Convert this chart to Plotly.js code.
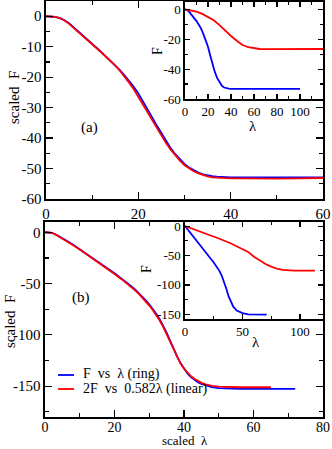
<!DOCTYPE html>
<html>
<head>
<meta charset="utf-8">
<script src="https://cdn.plot.ly/plotly-3.0.1.min.js"></script>
<style>html,body{margin:0;padding:0;background:#fff;}#chart{width:332px;height:449px;}</style>
</head>
<body>
<div id="chart"></div>
<script>
// ---- Panel (a): scaled curves ----
var aRingX = [0,1,2,3,4,5,6,7,8,9,10,11,12,13,14,15,16,17,18,19,20,21,22,23,24,25,26,27,28,29,30,31,32,33,34,35,36,37,38,40,42,45,50,55,60];
var aRingY = [0,0,-0.2,-0.6,-1.3,-2.3,-3.6,-5.0,-6.4,-7.8,-9.1,-10.4,-11.8,-13.2,-14.6,-16.1,-17.7,-19.4,-21.2,-23.2,-25.4,-27.9,-30.5,-33.2,-35.9,-38.5,-41.0,-43.3,-45.3,-47.0,-48.5,-49.7,-50.6,-51.3,-51.9,-52.3,-52.5,-52.7,-52.8,-52.9,-52.9,-52.9,-52.9,-52.9,-52.9];
var aLinX = [0,1,2,3,4,5,6,7,8,9,10,11,12,13,14,15,16,17,18,19,20,21,22,23,24,25,26,27,28,29,30,31,32,33,34,35,36,37,38,40,42,45,50,55,60];
var aLinY = [0,0,-0.2,-0.6,-1.4,-2.5,-3.8,-5.2,-6.6,-8.0,-9.3,-10.6,-11.9,-13.3,-14.7,-16.2,-17.9,-19.7,-21.8,-24.0,-26.4,-28.9,-31.5,-34.1,-36.7,-39.2,-41.6,-43.8,-45.7,-47.4,-48.9,-50.0,-50.9,-51.6,-52.2,-52.6,-52.9,-53.0,-53.1,-53.2,-53.2,-53.3,-53.3,-53.2,-53.1];
// ---- Panel (a) inset: raw curves ----
var aInRingX = [0,2,4,6,8,10,12,14,16,18,20,22,24,26,28,30,32,34,36,38,40,45,50,60,70,80,90,100];
var aInRingY = [0,-0.5,-2,-3.8,-5.7,-7.8,-10.2,-12.8,-16.5,-20.5,-25,-31,-37,-42,-46,-49,-51,-52.3,-52.9,-53.1,-53.2,-53.2,-53.2,-53.2,-53.2,-53.2,-53.2,-53.2];
var aInLinX = [0,5,10,15,20,25,30,35,40,45,50,55,60,65,70,80,90,100,110,120];
var aInLinY = [0,-0.6,-1.5,-3,-4.9,-7.2,-10.5,-14.5,-17.8,-21,-23.8,-25.3,-26.1,-26.5,-26.6,-26.6,-26.5,-26.4,-26.5,-26.5];
// ---- Panel (b): scaled curves ----
var bRingX = [0,1,2,3,4,5,6,8,10,12,14,16,18,20,22,24,26,27,28,29,30,31,32,33,34,35,36,37,38,39,40,41,42,43,44,45,46,48,50,52,54,56,60,65,72];
var bRingY = [0,0,-0.5,-2,-3.8,-5.8,-7.8,-12,-16.5,-21,-25.8,-30.5,-35.3,-40,-45,-50.3,-56,-59.2,-62.6,-66.3,-70.3,-74.6,-79.3,-84.6,-90.7,-97.7,-105.5,-113.5,-121,-127.5,-133,-137.5,-141,-143.8,-146,-147.7,-149,-150.9,-151.8,-152.2,-152.4,-152.5,-152.5,-152.5,-152.5];
var bLinX = [0,1,2,3,4,5,6,8,10,12,14,16,18,20,22,24,26,27,28,29,30,31,32,33,34,35,36,37,38,39,40,41,42,43,44,45,46,48,50,52,54,56,60,65];
var bLinY = [0,0,-0.5,-2.1,-4,-6,-8,-12.3,-16.8,-21.4,-26.2,-31,-35.8,-40.6,-45.7,-51,-56.8,-60,-63.5,-67.3,-71.4,-75.8,-80.6,-86,-92.2,-99.3,-107.2,-115,-122,-128,-133,-137,-140.2,-142.8,-145,-146.7,-148,-149.6,-150.4,-150.8,-151,-151,-151,-151];
// ---- Panel (b) inset: raw curves ----
var bInRingX = [0,5,10,15,20,25,28,30,32,34,36,38,40,42,45,50,55,60,65,71];
var bInRingY = [0,-12,-24,-36.5,-49.5,-62,-70,-76.5,-84.5,-94.5,-107,-120,-130,-137,-143.5,-148,-150,-150.5,-150.5,-150.5];
var bInLinX = [0,10,20,30,40,45,50,55,60,65,70,75,80,85,90,95,100,105,113];
var bInLinY = [0,-7,-14,-21.5,-29.5,-34,-38.5,-44,-52,-59,-64.5,-69,-72.5,-74.5,-75.5,-75.8,-75.8,-75.8,-75.8];

// ---- tick labels ----
var aYVals = [0,-10,-20,-30,-40,-50,-60];
var aYText = ["0","-10","-20","-30","-40","-50","-60"];
var aXVals = [0,20,40,60];
var aXText = ["0","20","40","60"];
var aInXVals = [0,20,40,60,80,100];
var aInXText = ["0","20","40","60","80","100"];
var aInYVals = [0,-20,-40,-60];
var aInYText = ["0","-20","-40","-60"];
var bXVals = [0,20,40,60,80];
var bXText = ["0","20","40","60","80"];
var bYVals = [0,-50,-100,-150];
var bYText = ["0","-50","-100","-150"];
var bInXVals = [0,50,100];
var bInXText = ["0","50","100"];
var bInYVals = [0,-50,-100,-150];
var bInYText = ["0","-50","-100","-150"];

var legendNames = ["F\u00a0 vs\u00a0 \u03bb (ring)", "2F\u00a0 vs\u00a0 0.582\u03bb (linear)"];
var mainYTitle = "scaled\u00a0 F";
var mainXTitle = "scaled\u00a0 \u03bb";
var insetYTitle = "F";
var insetXTitle = "\u03bb";

var BLUE = "#0000ff", RED = "#ff0000";
var FONT = "Liberation Serif, Times New Roman, serif";

function tr(x, y, color, xa, ya, name) {
  return {x: x, y: y, type: "scatter", mode: "lines", xaxis: xa, yaxis: ya, name: name,
          showlegend: false, line: {color: color, width: 1.8}, hoverinfo: "skip"};
}
var data = [
  tr(aRingX, aRingY, BLUE, "x", "y", legendNames[0]),
  tr(aLinX, aLinY, RED, "x", "y", legendNames[1]),
  tr(aInRingX, aInRingY, BLUE, "x2", "y2", legendNames[0]),
  tr(aInLinX, aInLinY, RED, "x2", "y2", legendNames[1]),
  tr(bRingX, bRingY, BLUE, "x3", "y3", legendNames[0]),
  tr(bLinX, bLinY, RED, "x3", "y3", legendNames[1]),
  tr(bInRingX, bInRingY, BLUE, "x4", "y4", legendNames[0]),
  tr(bInLinX, bInLinY, RED, "x4", "y4", legendNames[1])
];

function ax(o) {
  var base = {showline: true, linecolor: "#000", linewidth: 1.6, mirror: "allticks",
    ticks: "inside", ticklen: 7, tickwidth: 1.2, tickcolor: "#000",
    showgrid: false, zeroline: false, tickmode: "array", fixedrange: true,
    tickfont: {family: FONT, size: 15, color: "#000"}};
  for (var k in o) base[k] = o[k];
  return base;
}

var W = 332, H = 449;
function dx(a, b) { return [a / W, b / W]; }
function dy(top, bot) { return [(H - bot) / H, (H - top) / H]; }
function lab(text, px, py, size, angle) {
  return {text: text, xref: "paper", yref: "paper", x: px / W, y: (H - py) / H,
    xanchor: "center", yanchor: "middle", showarrow: false, textangle: angle || 0,
    borderpad: 0, font: {family: FONT, size: size, color: "#000"}};
}
var xTitleAnn = lab(mainXTitle, 185, 449, 13, 0);
xTitleAnn.yanchor = "bottom";

var layout = {
  width: W, height: H, margin: {l: 0, r: 0, t: 0, b: 0},
  paper_bgcolor: "#fff", plot_bgcolor: "#fff", showlegend: false,
  font: {family: FONT, color: "#000"},
  xaxis: ax({domain: dx(46, 323), range: [0, 60], anchor: "y", tickvals: aXVals, ticktext: aXText,
    minor: {ticks: "inside", dtick: 10, tick0: 0, ticklen: 4, tickcolor: "#000"}}),
  yaxis: ax({domain: dy(1, 199), range: [-60, 5], anchor: "x", tickvals: aYVals, ticktext: aYText,
    minor: {ticks: "inside", dtick: 5, tick0: 0, ticklen: 4, tickcolor: "#000"}}),
  xaxis2: ax({domain: dx(185, 323), range: [0, 120], anchor: "y2", tickvals: aInXVals, ticktext: aInXText,
    ticklen: 5, tickfont: {family: FONT, size: 13, color: "#000"},
    minor: {ticks: "inside", dtick: 10, tick0: 0, ticklen: 3, tickcolor: "#000"}}),
  yaxis2: ax({domain: dy(2, 99), range: [-60, 5], anchor: "x2", tickvals: aInYVals, ticktext: aInYText,
    ticklen: 5, tickfont: {family: FONT, size: 13, color: "#000"},
    minor: {ticks: "inside", dtick: 10, tick0: 0, ticklen: 3, tickcolor: "#000"}}),
  xaxis3: ax({domain: dx(45, 323), range: [0, 80], anchor: "y3", tickvals: bXVals, ticktext: bXText,
    ticklabelstandoff: -3, tickfont: {family: FONT, size: 14, color: "#000"},
    minor: {ticks: "inside", dtick: 10, tick0: 0, ticklen: 4, tickcolor: "#000"}}),
  yaxis3: ax({domain: dy(222, 417), range: [-180, 10], anchor: "x3", tickvals: bYVals, ticktext: bYText,
    minor: {ticks: "inside", dtick: 25, tick0: 0, ticklen: 4, tickcolor: "#000"}}),
  xaxis4: ax({domain: dx(185, 323), range: [0, 120], anchor: "y4", tickvals: bInXVals, ticktext: bInXText,
    ticklen: 5, tickfont: {family: FONT, size: 13, color: "#000"},
    minor: {ticks: "inside", dtick: 25, tick0: 0, ticklen: 3, tickcolor: "#000"}}),
  yaxis4: ax({domain: dy(222, 319), range: [-158, 7], anchor: "x4", tickvals: bInYVals, ticktext: bInYText,
    ticklen: 5, tickfont: {family: FONT, size: 13, color: "#000"},
    minor: {ticks: "inside", dtick: 25, tick0: 0, ticklen: 3, tickcolor: "#000"}}),
  annotations: [
    lab(mainYTitle, 14, 97, 15, -90),
    lab(mainYTitle, 10, 322, 15, -90),
    xTitleAnn,
    lab(insetYTitle, 158, 51, 14, -90),
    lab(insetYTitle, 146, 269, 14, -90),
    lab(insetXTitle, 253, 126, 15, 0),
    lab(insetXTitle, 256, 342, 15, 0),
    {text: "(a)", xref: "x", yref: "y", x: 9.5, y: -36.6, showarrow: false,
     font: {family: FONT, size: 15, color: "#000"}},
    {text: "(b)", xref: "x3", yref: "y3", x: 10.4, y: -63.5, showarrow: false,
     font: {family: FONT, size: 15, color: "#000"}},
    {text: legendNames[0], xref: "paper", yref: "paper", x: 82 / W, y: (H - 374) / H,
     xanchor: "left", yanchor: "middle", showarrow: false, borderpad: 0,
     font: {family: FONT, size: 14, color: "#000"}},
    {text: legendNames[1], xref: "paper", yref: "paper", x: 82 / W, y: (H - 389) / H,
     xanchor: "left", yanchor: "middle", showarrow: false, borderpad: 0,
     font: {family: FONT, size: 14, color: "#000"}}
  ],
  shapes: [
    {type: "line", xref: "paper", yref: "paper", x0: 58 / W, x1: 74 / W, y0: (H - 375) / H, y1: (H - 375) / H,
     line: {color: BLUE, width: 1.8}},
    {type: "line", xref: "paper", yref: "paper", x0: 58 / W, x1: 74 / W, y0: (H - 389) / H, y1: (H - 389) / H,
     line: {color: RED, width: 1.8}}
  ]
};

Plotly.newPlot("chart", data, layout, {staticPlot: true, displayModeBar: false});
</script>
</body>
</html>
